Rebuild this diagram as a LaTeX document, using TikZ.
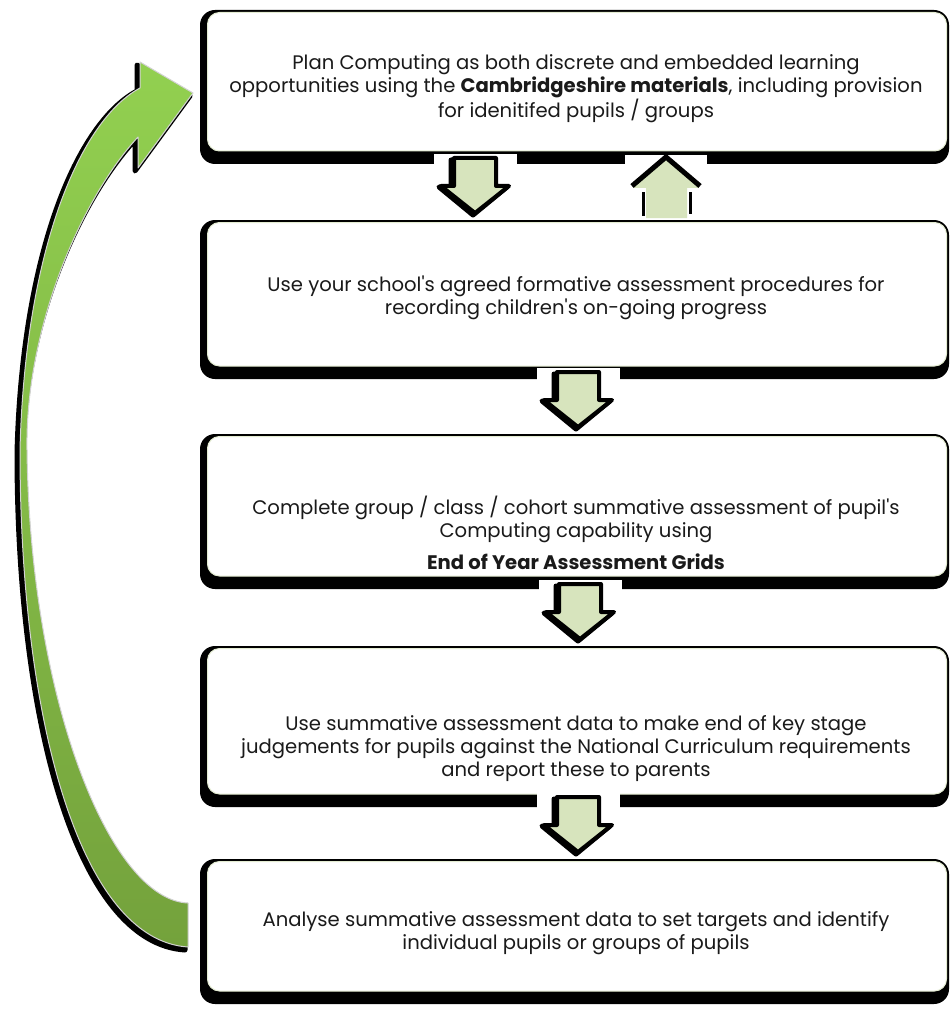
\documentclass[tikz,border=0pt]{standalone}
\usepackage{fontspec}
\newfontfamily\gothic{Poppins}
\definecolor{arrowfill}{HTML}{D7E4BD}
\definecolor{greentop}{HTML}{92D050}
\definecolor{greenbot}{HTML}{74A23C}
\definecolor{boxedge}{HTML}{E4ECD2}
\definecolor{txt}{HTML}{1A1A1A}
\newcommand\flowbox[2]{%
  \fill[black, rounded corners=15pt] (200,#1) rectangle (949,#2);
  \fill[white, draw=boxedge, line width=1pt, rounded corners=12pt] (207.5,{#1+2.5}) rectangle (946.5,{#2-13});
}
\newcommand\blockdown[3]{% cx, top, bottom of white patch
  \fill[white] ({#1-41},{#2-4}) rectangle ({#1+42},#3);
  \draw[black, line width=5pt, line join=round, fill=black] ({#1-24},{#2+2}) -- ({#1+20},{#2+2}) -- ({#1+20},{#2+29}) -- ({#1+32},{#2+29}) -- ({#1-2},{#2+57}) -- ({#1-36},{#2+29}) -- ({#1-24},{#2+29}) -- cycle;
  \draw[black, line width=4pt, line join=round, fill=arrowfill] ({#1-21},{#2}) -- ({#1+21},{#2}) -- ({#1+21},{#2+28}) -- ({#1+34},{#2+28}) -- ({#1},{#2+55}) -- ({#1-34},{#2+28}) -- ({#1-21},{#2+28}) -- cycle;
}
\begin{document}
\begin{tikzpicture}[x=1pt,y=-1pt,
  boxtext/.style={font=\gothic\fontsize{19.6}{23}\selectfont, text=txt, align=center, inner sep=0pt}]
\useasboundingbox (0,0) rectangle (950,1011);
\fill[white] (0,0) rectangle (950,1011);

% boxes
\flowbox{10}{164}
\flowbox{220}{379}
\flowbox{434}{589}
\flowbox{646}{807}
\flowbox{859}{1004}

% small block arrows
\blockdown{475}{158}{219}
\blockdown{578}{372}{433}
\blockdown{580}{584}{645}
\blockdown{578}{797}{858}

% up arrow
\fill[white] (625,155) rectangle (707,219);
\fill[arrowfill] (646,218) -- (646,188) -- (633,188) -- (666,159) -- (699,188) -- (687,188) -- (687,218) -- cycle;
\draw[black, line width=5pt, line join=round] (632,186) -- (666,157) -- (700,186);
\draw[black, line width=3pt] (643,192) -- (643,216);
\draw[black, line width=3pt] (690,192) -- (690,214);

% curved arrow
\path[fill=black, shift={(-3,3)}, draw=black, line width=5pt, line join=round]
  (193,93) -- (140,62) -- (140,88) .. controls (80,120) and (25,250) .. (20,450)
  .. controls (20,720) and (80,940) .. (188,947) -- (188,903)
  .. controls (110,900) and (30,700) .. (27,450) .. controls (25,330) and (80,200) .. (138,137)
  -- (138,168) -- cycle;
\path[top color=greentop, bottom color=greenbot, draw=gray!35, line width=1pt, line join=round]
  (193,93) -- (140,62) -- (140,88) .. controls (80,120) and (25,250) .. (20,450)
  .. controls (20,720) and (80,940) .. (188,947) -- (188,903)
  .. controls (110,900) and (30,700) .. (27,450) .. controls (25,330) and (80,200) .. (138,137)
  -- (138,168) -- cycle;

% texts
\node[boxtext] (t1) at (576,89) {Plan Computing as both discrete and embedded learning\\opportunities using the \textbf{Cambridgeshire materials}, including provision\\for idenitifed pupils / groups};
\node[boxtext] (t2) at (576,298) {Use your school's agreed formative assessment procedures for\\recording children's on-going progress};
\node[boxtext] (t3) at (576,533) {Complete group / class / cohort summative assessment of pupil's\\Computing capability using\\[9pt]\textbf{End of Year Assessment Grids}};
\node[boxtext] (t4) at (576,749) {Use summative assessment data to make end of key stage\\judgements for pupils against the National Curriculum requirements\\and report these to parents};
\node[boxtext] (t5) at (576,933) {Analyse summative assessment data to set targets and identify\\individual pupils or groups of pupils};
\end{tikzpicture}
\end{document}
